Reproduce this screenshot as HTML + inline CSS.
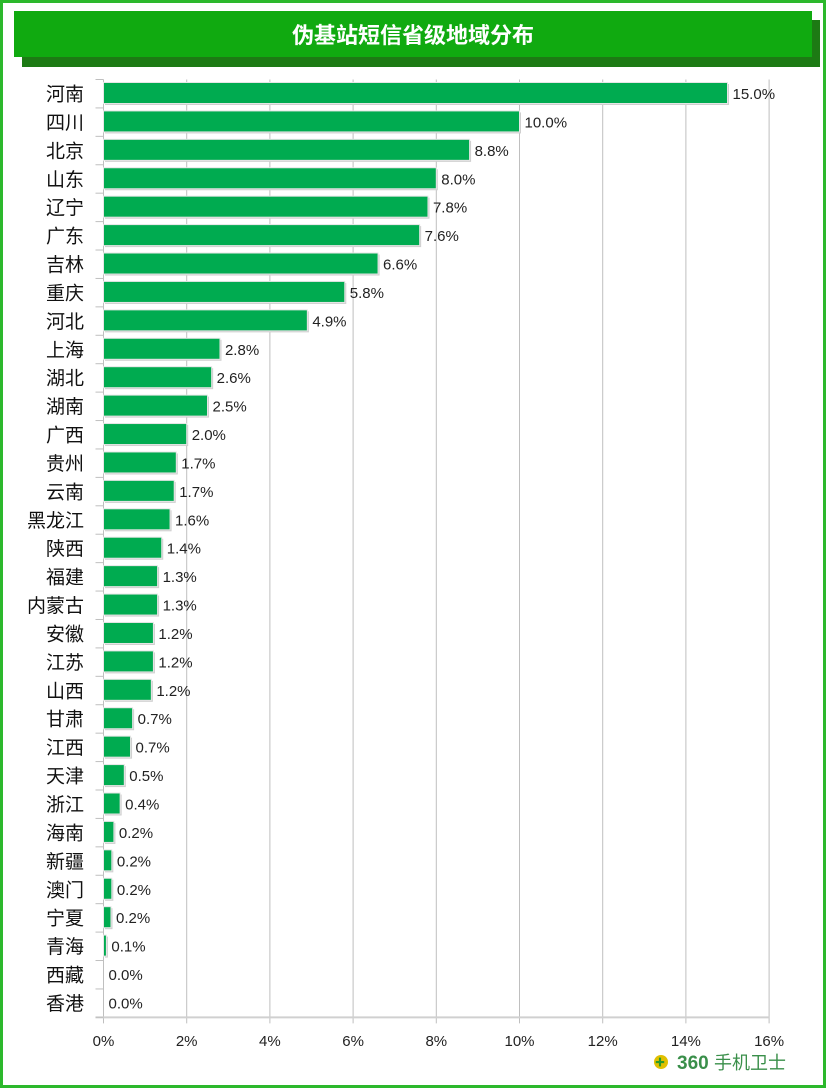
<!DOCTYPE html>
<html><head><meta charset="utf-8"><style>
html,body{margin:0;padding:0;background:#fff}
svg{display:block}
text{font-family:"Liberation Sans","Noto Sans CJK SC",sans-serif}
</style></head><body>
<svg id="s" width="827" height="1089" xmlns="http://www.w3.org/2000/svg">
<rect x="1.5" y="1.5" width="823" height="1085" fill="#fff" stroke="#2cb82c" stroke-width="3"/>
<rect x="22" y="20" width="798" height="47" fill="#1d7a14"/>
<rect x="14" y="11" width="798" height="46" fill="#10aa10"/>
<text x="413" y="43" text-anchor="middle" font-size="22" font-weight="bold" fill="#fff">伪基站短信省级地域分布</text>
<g id="g"></g>
<circle cx="661" cy="1062" r="7" fill="#e0c000"/>
<text x="655" y="1066" font-size="10" fill="#2a9a2a" font-weight="bold">✚</text>
<text x="677" y="1069" font-size="19" fill="#3a8f4a" font-weight="bold">360</text>
<text x="714" y="1069" font-size="18" fill="#3a8f4a">手机卫士</text>
</svg>
<script>
(function(){
var d=[["河南",15.0],["四川",10.0],["北京",8.8],["山东",8.0],["辽宁",7.8],["广东",7.6],["吉林",6.6],["重庆",5.8],["河北",4.9],["上海",2.8],["湖北",2.6],["湖南",2.5],["广西",2.0],["贵州",1.75],["云南",1.7],["黑龙江",1.6],["陕西",1.4],["福建",1.3],["内蒙古",1.3],["安徽",1.2],["江苏",1.2],["山西",1.15],["甘肃",0.7],["江西",0.65],["天津",0.5],["浙江",0.4],["海南",0.25],["新疆",0.2],["澳门",0.2],["宁夏",0.18],["青海",0.07],["西藏",0],["香港",0]];
var lab=["15.0%","10.0%","8.8%","8.0%","7.8%","7.6%","6.6%","5.8%","4.9%","2.8%","2.6%","2.5%","2.0%","1.7%","1.7%","1.6%","1.4%","1.3%","1.3%","1.2%","1.2%","1.2%","0.7%","0.7%","0.5%","0.4%","0.2%","0.2%","0.2%","0.2%","0.1%","0.0%","0.0%"];
var x0=103.5,sc=41.6,t0=79.5,st=28.42,bot=t0+33*st,h='';
for(var i=1;i<=8;i++){var x=x0+i*2*sc;h+='<line x1="'+x+'" y1="'+t0+'" x2="'+x+'" y2="'+(bot+6)+'" stroke="#bfbfbf"/>';}
h+='<line x1="'+x0+'" y1="'+t0+'" x2="'+x0+'" y2="'+(bot+6)+'" stroke="#bfbfbf"/>';
h+='<line x1="'+(x0-8)+'" y1="'+bot+'" x2="'+(x0+16*sc)+'" y2="'+bot+'" stroke="#d0d0d0" stroke-width="2"/>';
for(var i=0;i<=33;i++){var y=t0+i*st;h+='<line x1="'+(x0-8)+'" y1="'+y+'" x2="'+x0+'" y2="'+y+'" stroke="#bfbfbf"/>';}
for(var i=0;i<=8;i++){h+='<text x="'+(x0+i*2*sc)+'" y="1046" text-anchor="middle" font-size="15" fill="#222">'+(i*2)+'%</text>';}
d.forEach(function(r,i){var y=t0+i*st,w=r[1]*sc;
if(w>0){h+='<rect x="'+(x0+1.5)+'" y="'+(y+4.5)+'" width="'+w+'" height="21" fill="#cfcfcf"/>';
h+='<rect x="'+x0+'" y="'+(y+3)+'" width="'+w+'" height="21" fill="#00ab50" stroke="#e6e6e6" stroke-width="1"/>';}
h+='<text x="'+(x0+w+5)+'" y="'+(y+19.5)+'" font-size="15" fill="#222">'+lab[i]+'</text>';
h+='<text x="84" y="'+(y+21)+'" text-anchor="end" font-size="19" fill="#111">'+r[0]+'</text>';});
document.getElementById('g').innerHTML=h;
})();
</script>
</body></html>
